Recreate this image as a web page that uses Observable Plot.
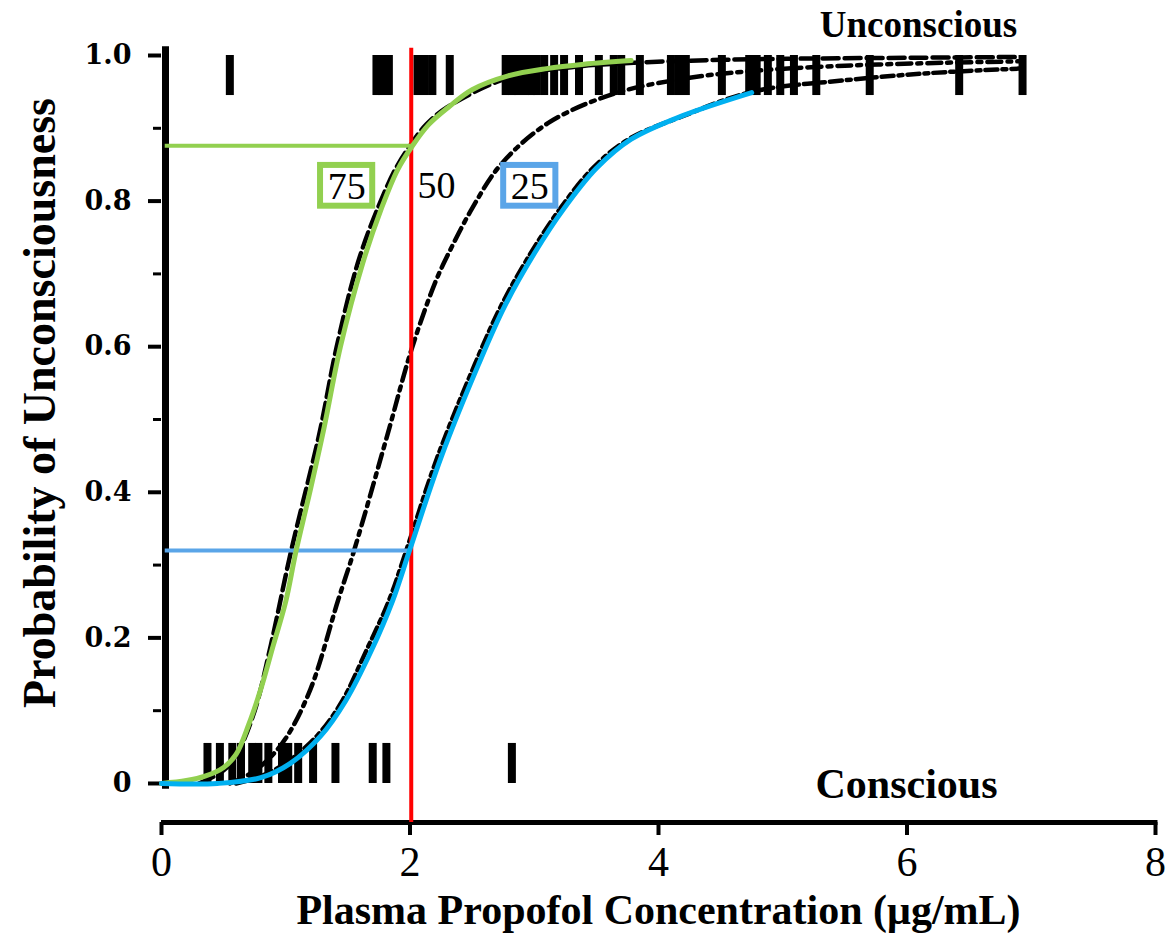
<!DOCTYPE html>
<html>
<head>
<meta charset="utf-8">
<script src="https://cdn.jsdelivr.net/npm/d3@7"></script>
<script src="https://cdn.jsdelivr.net/npm/@observablehq/plot@0.6"></script>
<style>
  html, body { margin: 0; padding: 0; background: #ffffff; }
  #chart svg { display: block; }
</style>
</head>
<body>
<div id="chart"></div>
<script>
// ---- Data ----
const xTicks = [0, 2, 4, 6, 8];
const yTicks = [0, 0.2, 0.4, 0.6, 0.8, 1.0];
const yMinorTicks = [0.1, 0.3, 0.5, 0.7, 0.9];

// Observations: unconscious (top rug) and conscious (bottom rug), µg/mL
const unconsciousObs = [0.55, 1.73, 1.77, 1.83, 2.06, 2.12, 2.18, 2.32, 2.77, 2.82, 2.87, 2.93, 2.98,
  3.02, 3.08, 3.16, 3.24, 3.36, 3.52, 3.64, 3.70, 3.85, 4.10, 4.16, 4.22, 4.51, 4.73, 4.79, 4.88,
  4.98, 5.09, 5.27, 5.70, 6.42, 6.93];
const consciousObs = [0.37, 0.47, 0.57, 0.64, 0.73, 0.78, 0.86, 0.97, 1.02, 1.10, 1.22, 1.40, 1.70, 1.81, 2.82];

// Printed (black) probability curves: [concentration, probability]
const curve75 = [[0.3,0.0],[0.5,0.018],[0.62,0.045],[0.75,0.1],[0.88,0.19],[1.04,0.317],[1.27,0.48],
  [1.41,0.60],[1.58,0.715],[1.74,0.79],[1.88,0.843],[2.0,0.876],[2.13,0.905],[2.3,0.929],[2.8,0.97],
  [3.3,0.984],[3.8,0.99],[4.5,0.994],[5.3,0.996],[6.1,0.997],[6.9,0.998]];
const curve50 = [[0.55,0.0],[0.7,0.012],[0.84,0.03],[1.0,0.062],[1.2,0.13],[1.42,0.251],[1.55,0.32],
  [1.82,0.48],[2.01,0.595],[2.2,0.687],[2.31,0.728],[2.5,0.79],[2.73,0.85],[3.11,0.907],[3.65,0.948],
  [4.2,0.968],[4.7,0.978],[5.5,0.986],[6.3,0.99],[6.9,0.992]];
const curve25 = [[0.6,0.0],[0.8,0.01],[1.0,0.028],[1.25,0.065],[1.45,0.112],[1.65,0.183],[1.83,0.251],
  [1.97,0.32],[2.22,0.448],[2.52,0.575],[2.73,0.655],[2.97,0.728],[3.21,0.79],[3.47,0.845],[3.76,0.885],
  [4.2,0.917],[4.75,0.95],[5.5,0.966],[6.2,0.976],[6.9,0.982]];

// Coloured overlay curves
const green75 = [[0,0],[0.2,0.004],[0.35,0.01],[0.5,0.022],[0.6,0.04],[0.7,0.08],[0.8,0.13],[0.9,0.19],
  [1.0,0.25],[1.08,0.317],[1.2,0.405],[1.31,0.49],[1.44,0.60],[1.62,0.715],[1.77,0.79],[1.9,0.843],
  [2.02,0.876],[2.15,0.905],[2.31,0.929],[2.5,0.953],[2.79,0.972],[3.1,0.982],[3.4,0.988],[3.78,0.993]];
const blue25 = [[0,0],[0.45,0.0],[0.8,0.008],[1.04,0.028],[1.28,0.065],[1.48,0.113],[1.69,0.183],
  [1.86,0.251],[2.0,0.322],[2.25,0.448],[2.55,0.575],[2.76,0.655],[3.0,0.728],[3.24,0.79],[3.5,0.845],
  [3.78,0.885],[4.19,0.917],[4.75,0.949]];

// Reference lines
const refConc = [2.01];
const greenLevel = [{y: 0.876, x1: 0.03, x2: 2.01}];
const blueLevel = [{y: 0.32, x1: 0.03, x2: 2.01}];

// Curve labels (centre in data units)
const boxedLabels = [{label: "75", x: 1.49, y: 0.821, color: "#92d050"},
                     {label: "25", x: 2.964, y: 0.821, color: "#5aa5e8"}];
const plainLabels = [{label: "50", x: 2.214, y: 0.822}];

const xTitle = "Plasma Propofol Concentration (\u03bcg/mL)";
const yTitle = "Probability of Unconsciousness";
const topTitle = "Unconscious";
const bottomTitle = "Conscious";

// ---- Chart ----
const serif = "'Liberation Serif', 'Times New Roman', serif";
const rug = 0.055;
const bw = 0.21, bh = 0.028;

const chart = Plot.plot({
  width: 1169,
  height: 940,
  marginLeft: 161,
  marginRight: 14,
  marginTop: 55,
  marginBottom: 118,
  x: {domain: [0, 8]},
  y: {domain: [-0.0536, 1]},
  style: {background: "#ffffff", fontFamily: serif, color: "#000"},
  marks: [
    // rugs
    Plot.ruleX(unconsciousObs, {x: d => d, y1: 1 - rug, y2: 1.0, stroke: "#000", strokeWidth: 8}),
    Plot.ruleX(consciousObs, {x: d => d, y1: 0, y2: rug, stroke: "#000", strokeWidth: 8}),
    // printed curves
    Plot.line(curve75, {x: d => d[0], y: d => d[1], curve: "catmull-rom", stroke: "#000", strokeWidth: 4.5, strokeDasharray: "16,6"}),
    Plot.line(curve50, {x: d => d[0], y: d => d[1], curve: "catmull-rom", stroke: "#000", strokeWidth: 4.5, strokeDasharray: "14,6,4,6"}),
    Plot.line(curve25, {x: d => d[0], y: d => d[1], curve: "catmull-rom", stroke: "#000", strokeWidth: 4.5, strokeDasharray: "12,5,4,5"}),
    // axes
    Plot.ruleX([0], {y1: -0.008, y2: 1.012, stroke: "#000", strokeWidth: 7, dx: 4}),
    Plot.ruleY([-0.0536], {x1: 0, x2: 8.02, stroke: "#000", strokeWidth: 5}),
    Plot.axisY({ticks: yTicks, tickSize: 13, tickPadding: 17, strokeWidth: 4, fontSize: 27,
      fontFamily: "'DejaVu Serif', serif", fontWeight: "bold", tickFormat: d => d === 0 ? "0" : d.toFixed(1), label: null}),
    Plot.axisY({ticks: yMinorTicks, tickSize: 8, strokeWidth: 3, tickFormat: () => "", label: null}),
    Plot.axisX({ticks: xTicks, tickSize: 13, tickPadding: 11, strokeWidth: 4, fontSize: 42,
      fontFamily: serif, tickFormat: d => String(d), label: null}),
    // reference lines
    Plot.ruleX(refConc, {x: d => d, y1: -0.0536, y2: 1.01, stroke: "#ff0000", strokeWidth: 4}),
    Plot.ruleY(greenLevel, {y: "y", x1: "x1", x2: "x2", stroke: "#92d050", strokeWidth: 4}),
    Plot.ruleY(blueLevel, {y: "y", x1: "x1", x2: "x2", stroke: "#5aa5e8", strokeWidth: 4}),
    // coloured curves
    Plot.line(green75, {x: d => d[0], y: d => d[1], curve: "catmull-rom", stroke: "#92d050", strokeWidth: 5}),
    Plot.line(blue25, {x: d => d[0], y: d => d[1], curve: "catmull-rom", stroke: "#00b0f0", strokeWidth: 5}),
    // labels
    Plot.rect(boxedLabels, {x1: d => d.x - bw, x2: d => d.x + bw, y1: d => d.y - bh, y2: d => d.y + bh,
      fill: "#fff", stroke: "color", strokeWidth: 6}),
    Plot.text(boxedLabels, {x: "x", y: "y", text: "label", fontSize: 38, fontFamily: serif, fill: "#000", dy: 1}),
    Plot.text(plainLabels, {x: "x", y: "y", text: "label", fontSize: 38, fontFamily: serif, fill: "#000", dy: 1}),
    // titles
    Plot.text([xTitle], {frameAnchor: "bottom", dy: 101, fontSize: 42, fontWeight: "bold", fontFamily: serif, fill: "#000"}),
    Plot.text([yTitle], {frameAnchor: "left", textAnchor: "middle", dx: -121, dy: -36, rotate: -90, fontSize: 46, fontWeight: "bold", fontFamily: serif, fill: "#000"}),
    Plot.text([topTitle], {frameAnchor: "top-left", textAnchor: "middle", lineAnchor: "middle", dx: 757, dy: -30, fontSize: 37, fontWeight: "bold", fontFamily: serif, fill: "#000"}),
    Plot.text([bottomTitle], {frameAnchor: "left", x: () => 0, y: () => 0, dx: 745, dy: 1, fontSize: 42, fontWeight: "bold", fontFamily: serif, fill: "#000", textAnchor: "middle"})
  ]
});
document.getElementById("chart").appendChild(chart);
</script>
</body>
</html>
